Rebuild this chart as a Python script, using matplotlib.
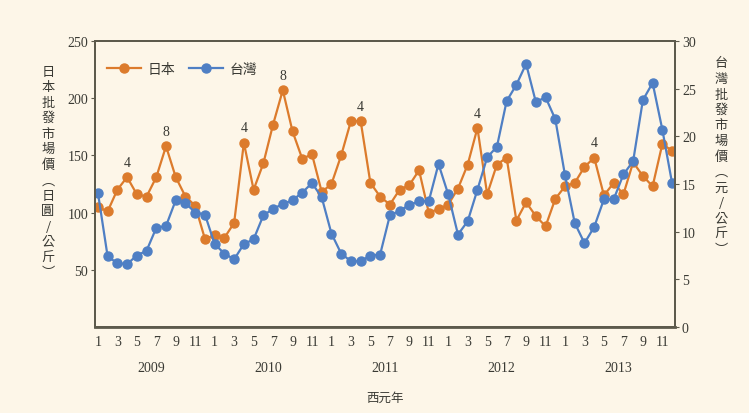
import matplotlib
matplotlib.use('Agg')
import matplotlib.pyplot as plt
import matplotlib.transforms as mtransforms
import numpy as np

# monthly data, Jan 2009 - Dec 2013
years = ['2009', '2010', '2011', '2012', '2013']
month_labels = ['1', '3', '5', '7', '9', '11']

japan = [105, 101, 120, 131, 116, 114, 131, 158, 131, 114, 106, 77,
         80, 78, 91, 161, 120, 143, 177, 207, 171, 147, 151, 118,
         125, 150, 180, 180, 126, 114, 107, 120, 124, 137, 100, 103,
         107, 121, 142, 174, 116, 142, 148, 93, 109, 97, 88, 112,
         123, 126, 140, 148, 115, 126, 116, 144, 132, 123, 160, 154]

taiwan = [14.1, 7.4, 6.7, 6.6, 7.5, 8.0, 10.4, 10.6, 13.3, 13.0, 12.0, 11.8,
          8.7, 7.7, 7.1, 8.7, 9.2, 11.7, 12.4, 12.9, 13.3, 14.1, 15.1, 13.6,
          9.8, 7.7, 6.9, 6.9, 7.5, 7.6, 11.7, 12.2, 12.8, 13.2, 13.2, 17.1,
          13.9, 9.7, 11.1, 14.4, 17.8, 18.9, 23.7, 25.4, 27.6, 23.6, 24.1, 21.8,
          15.9, 10.9, 8.8, 10.5, 13.4, 13.4, 16.0, 17.4, 23.8, 25.6, 20.7, 15.1]

# month index -> annotation shown above the Japan series
marks = {3: '4', 7: '8', 15: '4', 19: '8', 27: '4', 39: '4', 51: '4'}

bg = '#fdf6e8'
orange = '#dc7b2c'
blue = '#4f7fc4'
frame = '#5d5a4c'
txt = '#3a3a34'
num_font = 'Liberation Serif'
cjk = ['Noto Sans CJK TC', 'DejaVu Sans']

fig = plt.figure(figsize=(7.49, 4.14), dpi=100, facecolor=bg)
ax = fig.add_axes([0.1268, 0.2077, 0.7744, 0.6909], facecolor=bg)
ax2 = ax.twinx()

x = np.arange(len(japan))
l1, = ax.plot(x, japan, '-o', color=orange, lw=1.6, ms=6.5, label='日本')
l2, = ax2.plot(x, taiwan, '-o', color=blue, lw=1.6, ms=6.5, label='台灣')

for i, s in marks.items():
    ax.annotate(s, (i, japan[i]), xytext=(0, 6), textcoords='offset points',
                ha='center', va='bottom', fontsize=10, color=txt, family=num_font)

ax.set_xlim(-0.3, len(japan) - 0.7)
ax.set_ylim(0, 250)
ax2.set_ylim(0, 30)
ax.set_yticks([50, 100, 150, 200, 250])
ax2.set_yticks(np.arange(0, 31, 5))

xt = [y * 12 + m for y in range(len(years)) for m in range(0, 12, 2)]
ax.set_xticks(xt)
ax.set_xticklabels(month_labels * len(years))
ax.tick_params(axis='x', length=0, pad=6)
ax.tick_params(axis='y', length=3, direction='out', color=frame, pad=2)
ax2.tick_params(axis='y', length=3, direction='out', color=frame, pad=2)
for a in (ax, ax2):
    for lab in a.get_xticklabels() + a.get_yticklabels():
        lab.set_family(num_font)
        lab.set_fontsize(10)
        lab.set_color(txt)
    for sp in a.spines.values():
        sp.set_color(frame)
        sp.set_linewidth(1.4)
ax2.spines['bottom'].set_linewidth(2.0)

trans = mtransforms.blended_transform_factory(ax.transData, ax.transAxes)
for k, yr in enumerate(years):
    ax.text(k * 12 + 5.5, -0.14, yr, transform=trans, ha='center', va='center',
            fontsize=10, family=num_font, color=txt)
ax.text(29.5, -0.245, '西元年', transform=trans, ha='center', va='center',
        fontsize=9, family=cjk, color=txt)

left_lab = '日本批發市場價︵日圓/公斤︶'
right_lab = '台灣批發市場價︵元/公斤︶'
fig.text(48 / 749, 1 - 173 / 414, '\n'.join(left_lab), ha='center', va='center',
         fontsize=9.5, family=cjk, color=txt, linespacing=1.25)
fig.text(721 / 749, 1 - 157 / 414, '\n'.join(right_lab), ha='center', va='center',
         fontsize=9.5, family=cjk, color=txt, linespacing=1.25)

leg = ax.legend([l1, l2], ['日本', '台灣'], loc='upper left', ncol=2, frameon=False,
                prop={'family': cjk, 'size': 10}, handlelength=2.4, columnspacing=1.0,
                handletextpad=0.5, bbox_to_anchor=(0.0, 0.97))
for t in leg.get_texts():
    t.set_color(txt)

fig.savefig('out.png', dpi=100, facecolor=bg)
